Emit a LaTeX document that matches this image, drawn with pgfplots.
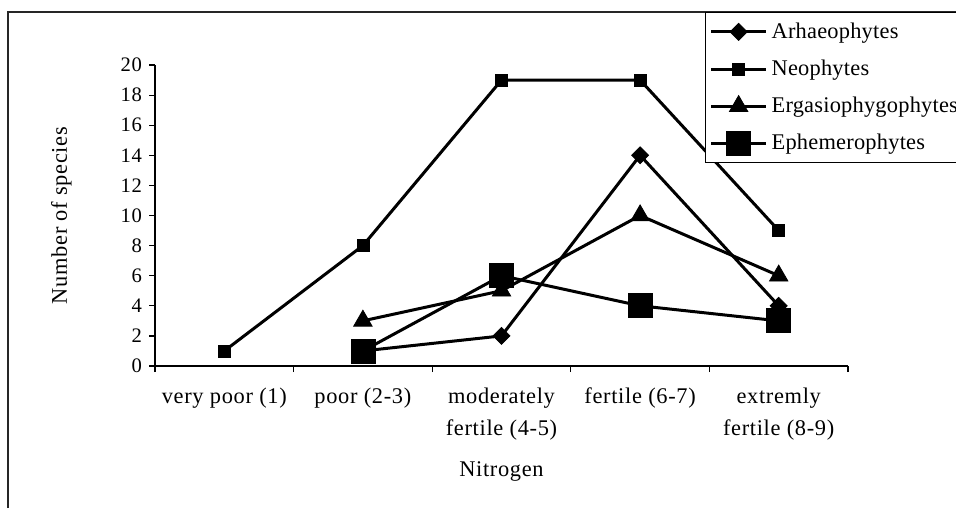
\documentclass[border=0pt]{standalone}
\usepackage{fontspec}
\setmainfont{Liberation Serif}[LetterSpace=3]
\newfontfamily\legfont{Liberation Serif}[LetterSpace=1]
\usepackage{pgfplots}
\pgfplotsset{compat=1.18}

% categories at 1..5 along x
\pgfplotstableread{
x y
2 1
3 2
4 14
5 4
}\arhaeo
\pgfplotstableread{
x y
1 1
2 8
3 19
4 19
5 9
}\neo
\pgfplotstableread{
x y
2 3
3 5
4 10
5 6
}\ergasio
\pgfplotstableread{
x y
2 1
3 6
4 4
5 3
}\ephemero

\begin{document}
\begin{tikzpicture}
% frame of the chart area
\draw[line width=0.8pt, black!85] (4pt,0pt) -- (4pt,248pt) -- (480pt,248pt);
\begin{axis}[
  at={(77.5pt,71pt)}, anchor=south west,
  scale only axis, width=346.5pt, height=150.5pt,
  xmin=0.5, xmax=5.5, ymin=0, ymax=20,
  axis x line*=bottom, axis y line*=left,
  axis line style={-, line width=0.6pt},
  xtick={1,2,3,4,5},
  xticklabels={very poor (1), poor (2-3), {moderately\\fertile (4-5)}, fertile (6-7), {extremly\\fertile (8-9)}},
  major x tick style={draw=none},
  minor xtick={0.5,1.5,2.5,3.5,4.5,5.5},
  minor tick length=3pt,
  ytick={0,2,...,20},
  tick align=outside, major tick length=3pt,
  tick style={black, line width=0.6pt},
  /pgf/number format/assume math mode=true,
  yticklabel style={font=\fontsize{10.3}{12}\selectfont},
  xticklabel style={font=\fontsize{11.2}{16}\selectfont, align=center, yshift=-4.5pt},
  xlabel={Nitrogen}, ylabel={Number of species},
  label style={font=\fontsize{11.2}{13}\selectfont},
  xlabel style={at={(axis description cs:0.5,-0.352)}, anchor=center},
  ylabel style={at={(axis description cs:-0.135,0.5)}, anchor=center, rotate=0},
  legend style={at={(axis description cs:0.7937,1.176)}, anchor=north west,
    draw=black, line width=0.6pt, font=\legfont\fontsize{11.2}{13}\selectfont,
    row sep=5.3pt, inner xsep=2pt, inner ysep=3pt, cells={anchor=west}},
  legend image code/.code={%
    \draw[mark repeat=2, mark phase=2, #1] plot coordinates {(0pt,0pt) (13.75pt,0pt) (27.5pt,0pt)};},
  every axis plot/.append style={black, line width=1.5pt},
  clip=false,
]
\addplot[mark=square*, mark size=3pt, mark options={rotate=45, line width=0.4pt}] table {\arhaeo};
\addlegendentry{Arhaeophytes}
\addplot[mark=square*, mark size=3pt, mark options={line width=0.4pt}] table {\neo};
\addlegendentry{Neophytes}
\addplot[mark=triangle*, mark size=5.3pt, mark options={line width=0.4pt}] table {\ergasio};
\addlegendentry{Ergasiophygophytes}
\addplot[mark=square*, mark size=6pt, mark options={line width=0.4pt}] table {\ephemero};
\addlegendentry{Ephemerophytes}
\end{axis}
\pgfresetboundingbox
\useasboundingbox (0pt,0pt) rectangle (478pt,254pt);
\end{tikzpicture}
\end{document}
